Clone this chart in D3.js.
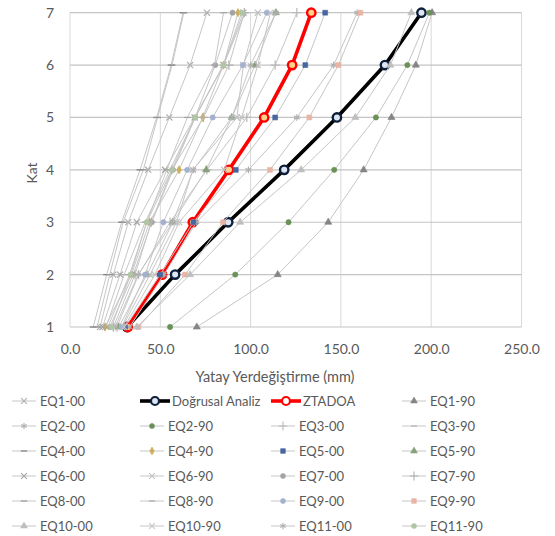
<!DOCTYPE html>
<html><head><meta charset="utf-8">
<script src="https://cdn.jsdelivr.net/npm/d3@7"></script>
<style>
body{margin:0;background:#fff;}
text{font-family:Lato,"Open Sans",sans-serif;fill:#595959;}
</style>
</head><body>
<svg id="chart" width="555" height="536"></svg>
<script>
// ---------- DATA ----------
const floors = [1,2,3,4,5,6,7];
const xTicks = [0,50,100,150,200,250];
const yTicks = [1,2,3,4,5,6,7];

const dogrusal = [31.6,58.2,87.6,118.6,147.8,174.4,194.6];
const ztadoa   = [32.0,51.0,68.0,88.0,107.5,123.0,133.6];

const eq1_00  = [16.6,24.0,32.3,43.3,55.0,66.5,75.8];
const eq1_90  = [70.2,115.0,143.0,162.6,178.0,191.5,200.5];
const eq2_00  = [33.0,52.0,70.0,98.8,125.6,146.0,159.0];
const eq2_90  = [55.4,91.5,121.0,146.3,169.4,186.8,199.0];
const eq3_00  = [26.0,38.0,55.4,75.8,97.9,113.6,125.6];
const eq3_90  = [20.0,30.0,41.6,55.4,69.3,85.0,97.0];
const eq4_00  = [12.9,20.3,28.6,38.8,48.0,56.0,62.6];
const eq4_90  = [19.4,34.0,44.0,60.4,73.5,85.0,93.0];
const eq5_00  = [30.5,50.0,68.3,91.8,113.6,130.3,141.3];
const eq5_90  = [27.0,42.6,57.0,75.4,89.6,102.5,114.0];
const eq6_00  = [18.0,27.7,37.0,52.7,69.0,85.0,96.0];
const eq6_90  = [29.0,44.3,59.0,68.0,92.4,96.0,104.0];
const eq7_00  = [22.0,35.0,45.3,57.0,69.3,80.4,90.0];
const eq7_90  = [24.0,36.0,45.0,56.4,73.9,88.0,96.5];
const eq8_00  = [15.0,22.0,29.4,40.6,48.5,56.5,63.0];
const eq8_90  = [21.0,33.0,42.5,53.6,65.0,80.0,85.0];
const eq9_00  = [28.6,41.6,51.7,64.9,79.0,95.7,109.0];
const eq9_90  = [37.9,63.7,84.7,110.7,132.5,148.6,160.8];
const eq10_00 = [37.0,66.5,94.2,128.0,158.0,177.4,189.0];
const eq10_90 = [30.0,47.0,60.4,85.4,95.0,104.0,111.0];
const eq11_00 = [25.0,37.7,56.9,68.3,89.6,100.0,114.0];
const eq11_90 = [23.0,33.5,42.5,56.4,69.3,85.0,95.0];

// ---------- SERIES TABLE (legend / draw order) ----------
const G = "#c6c6c6";
const series = [
  {name:"EQ1-00", v:eq1_00, sym:"x", mc:"#b0b0b0"},
  {name:"Doğrusal Analiz", v:dogrusal, main:"black"},
  {name:"ZTADOA", v:ztadoa, main:"red"},
  {name:"EQ1-90", v:eq1_90, sym:"tri", mc:"#858585"},
  {name:"EQ2-00", v:eq2_00, sym:"star", mc:"#b0b0b0"},
  {name:"EQ2-90", v:eq2_90, sym:"circle", mc:"#6a9258"},
  {name:"EQ3-00", v:eq3_00, sym:"plus", mc:"#b8b8b8"},
  {name:"EQ3-90", v:eq3_90, sym:"dash", mc:"#b0b0b0"},
  {name:"EQ4-00", v:eq4_00, sym:"dash", mc:"#7a7a7a"},
  {name:"EQ4-90", v:eq4_90, sym:"diamond", mc:"#cfae5a"},
  {name:"EQ5-00", v:eq5_00, sym:"square", mc:"#48679f"},
  {name:"EQ5-90", v:eq5_90, sym:"tri", mc:"#87a07a"},
  {name:"EQ6-00", v:eq6_00, sym:"x", mc:"#a4a4a4"},
  {name:"EQ6-90", v:eq6_90, sym:"x", mc:"#c0c0c0"},
  {name:"EQ7-00", v:eq7_00, sym:"circle", mc:"#a4a4a4"},
  {name:"EQ7-90", v:eq7_90, sym:"plus", mc:"#b0b0b0"},
  {name:"EQ8-00", v:eq8_00, sym:"dash", mc:"#959595"},
  {name:"EQ8-90", v:eq8_90, sym:"dash", mc:"#a4a4a4"},
  {name:"EQ9-00", v:eq9_00, sym:"circle", mc:"#a3b0d0"},
  {name:"EQ9-90", v:eq9_90, sym:"square", mc:"#e9b4a4"},
  {name:"EQ10-00", v:eq10_00, sym:"tri", mc:"#bebebe"},
  {name:"EQ10-90", v:eq10_90, sym:"x", mc:"#c4c4c4"},
  {name:"EQ11-00", v:eq11_00, sym:"star", mc:"#b0b0b0"},
  {name:"EQ11-90", v:eq11_90, sym:"circle", mc:"#b0c6a2"}
];

// ---------- LAYOUT ----------
const svg = d3.select("#chart");
const x = d3.scaleLinear().domain([0,250]).range([70,521.5]);
const y = d3.scaleLinear().domain([1,7]).range([327,12.7]);

// grid
svg.append("g").selectAll("line").data(xTicks).join("line")
  .attr("x1",d=>x(d)).attr("x2",d=>x(d)).attr("y1",y(7)).attr("y2",y(1))
  .attr("stroke","#d9d9d9").attr("stroke-width",1);
svg.append("g").selectAll("line").data(yTicks).join("line")
  .attr("x1",x(0)).attr("x2",x(250)).attr("y1",d=>y(d)).attr("y2",d=>y(d))
  .attr("stroke","#c4c4c4").attr("stroke-width",1.2);

// axes (labels only)
const xa = svg.append("g").attr("transform",`translate(0,${y(1)+14})`)
  .call(d3.axisBottom(x).tickValues(xTicks).tickSize(0).tickFormat(d3.format(".1f")));
xa.select(".domain").remove();
xa.selectAll("text").attr("font-family","Lato").attr("font-size",14).attr("fill","#595959");

const ya = svg.append("g").attr("transform",`translate(${x(0)-15},0)`)
  .call(d3.axisLeft(y).tickValues(yTicks).tickSize(0).tickFormat(d3.format("d")));
ya.select(".domain").remove();
ya.selectAll("text").attr("font-family","Lato").attr("font-size",14).attr("fill","#595959")
  .attr("text-anchor","middle").attr("dx",0).attr("x",-5);

svg.append("text").attr("x",275).attr("y",382).attr("text-anchor","middle")
  .attr("font-size",14.5).text("Yatay Yerdeğiştirme (mm)");
svg.append("text").attr("transform","translate(37,173) rotate(-90)")
  .attr("text-anchor","middle").attr("font-size",14).text("Kat");

// symbol generator
function symPath(sym, s){
  s = s||1;
  switch(sym){
    case "x": return d3.symbol(d3.symbolX, 26*s)();
    case "star": return d3.symbol(d3.symbolAsterisk, 30*s)();
    case "plus": return d3.symbol(d3.symbolPlus, 30*s)();
    case "tri": return d3.symbol(d3.symbolTriangle, 22*s)();
    case "circle": return d3.symbol(d3.symbolCircle, 22*s)();
    case "diamond": return d3.symbol(d3.symbolDiamond, 20*s)();
    case "square": return d3.symbol(d3.symbolSquare, 24*s)();
    case "dash": return `M${-3.5*s},0L${3.5*s},0`;
  }
}
const strokeSyms = new Set(["x","star","plus","dash"]);

const line = d3.line().x(d=>x(d[0])).y(d=>y(d[1]));
const plot = svg.append("g");

series.forEach(s=>{
  const pts = s.v.map((v,i)=>[v,floors[i]]);
  const g = plot.append("g");
  if(s.main){
    const col = s.main==="black" ? "#000" : "#ff0000";
    g.append("path").datum(pts).attr("d",line).attr("fill","none")
      .attr("stroke",col).attr("stroke-width",3.6).attr("stroke-linejoin","round");
    g.selectAll("circle").data(pts).join("circle")
      .attr("cx",d=>x(d[0])).attr("cy",d=>y(d[1])).attr("r",4.2)
      .attr("fill", s.main==="black" ? "#dde6f2" : "#ffd28a")
      .attr("stroke", s.main==="black" ? "#0d1f3a" : "#ff0000").attr("stroke-width",2.4);
  } else {
    g.append("path").datum(pts).attr("d",line).attr("fill","none")
      .attr("stroke",G).attr("stroke-width",1);
    g.selectAll("path.m").data(pts).join("path").attr("class","m")
      .attr("transform",d=>`translate(${x(d[0])},${y(d[1])})`)
      .attr("d",symPath(s.sym))
      .attr("fill", strokeSyms.has(s.sym) ? "none" : s.mc)
      .attr("stroke", s.mc).attr("stroke-width", strokeSyms.has(s.sym)?1.2:0.6);
  }
});

// legend
const colX = [12,140,271,402];
const rowY = [401,426,451,476,501,526];
const lg = svg.append("g");
series.forEach((s,i)=>{
  const cx = colX[i%4], cy = rowY[Math.floor(i/4)];
  const g = lg.append("g").attr("transform",`translate(${cx},${cy})`);
  const len = s.main ? 30 : 24;
  if(s.main){
    const col = s.main==="black" ? "#000" : "#ff0000";
    g.append("line").attr("x1",0).attr("x2",len).attr("stroke",col).attr("stroke-width",3.6);
    g.append("circle").attr("cx",len/2).attr("r",4)
      .attr("fill", s.main==="black" ? "#dde6f2" : "#ffffff")
      .attr("stroke", s.main==="black" ? "#0d1f3a" : "#ff0000").attr("stroke-width",2.2);
  } else {
    g.append("line").attr("x1",0).attr("x2",len).attr("stroke",G).attr("stroke-width",1);
    g.append("path").attr("transform",`translate(${len/2},0)`).attr("d",symPath(s.sym,0.9))
      .attr("fill", strokeSyms.has(s.sym) ? "none" : s.mc)
      .attr("stroke", s.mc).attr("stroke-width", strokeSyms.has(s.sym)?1.1:0.6);
  }
  g.append("text").attr("x", len+ (s.main?2:4)).attr("y",0).attr("dy","0.35em")
    .attr("font-size",13).text(s.name);
});
</script>
</body></html>
